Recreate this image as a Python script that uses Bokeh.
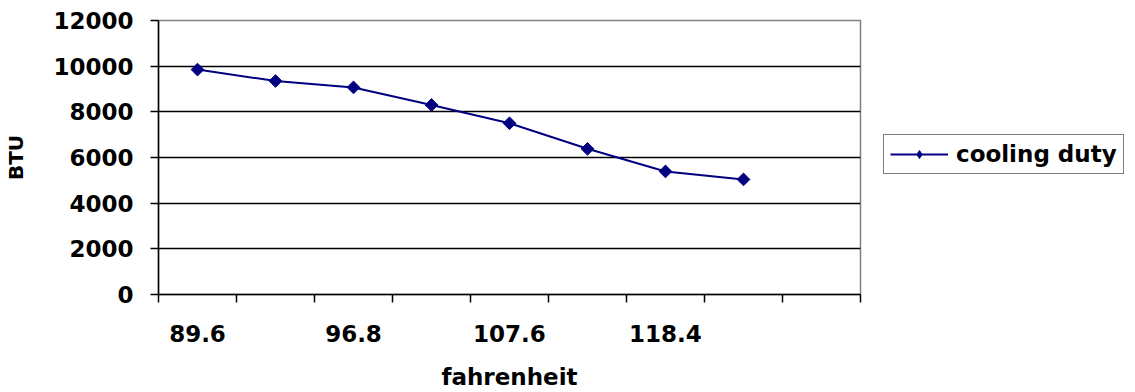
import math

from bokeh.plotting import figure
from bokeh.layouts import row
from bokeh.models import Range1d, FixedTicker, LinearAxis, Grid, Legend, LegendItem
from bokeh.embed import file_html
from bokeh.resources import INLINE

# Cooling duty (BTU) against outdoor temperature (°F)
temps_f = ["89.6", "93.2", "96.8", "102.2", "107.6", "113", "118.4", "123.8"]
cooling_duty_btu = [9850, 9350, 9070, 8300, 7500, 6380, 5390, 5040]
y_ticks = [0, 2000, 4000, 6000, 8000, 10000, 12000]
series_name = "cooling duty"

FONT = "DejaVu Sans"
NAVY = "#000080"

# category slots: one per temperature plus an empty slot at the right end
n_slots = len(temps_f) + 1
xs = [i + 0.5 for i in range(len(temps_f))]

p = figure(width=862, height=392, output_backend="svg", toolbar_location=None,
           x_range=Range1d(0, n_slots), y_range=Range1d(y_ticks[0], y_ticks[-1]),
           x_axis_type=None, y_axis_type=None,
           min_border_left=158, min_border_right=2,
           min_border_top=20, min_border_bottom=97,
           background_fill_color="white", border_fill_color="white",
           outline_line_color="#808080", outline_line_width=1.5)

# x axis: boundary ticks between categories, labels on every other category
label_pos = xs[::2]
xaxis = LinearAxis(
    ticker=FixedTicker(ticks=label_pos, minor_ticks=list(range(n_slots + 1))),
    major_label_overrides={x: t for x, t in zip(label_pos, temps_f[::2])},
    axis_label="fahrenheit",
    major_tick_out=0, major_tick_in=0, minor_tick_out=8, minor_tick_in=0,
    axis_line_color="black", axis_line_width=1.5,
    minor_tick_line_color="black", minor_tick_line_width=1.5,
    major_label_standoff=22, axis_label_standoff=19,
    major_label_text_font=FONT, major_label_text_font_style="bold",
    major_label_text_font_size="23px", major_label_text_color="black",
    axis_label_text_font=FONT, axis_label_text_font_style="bold",
    axis_label_text_font_size="23px", axis_label_text_color="black",
)
p.add_layout(xaxis, "below")

yaxis = LinearAxis(
    ticker=FixedTicker(ticks=y_ticks),
    axis_label="BTU",
    major_tick_out=8, major_tick_in=0, minor_tick_out=0, minor_tick_in=0,
    axis_line_color="black", axis_line_width=1.5,
    major_tick_line_color="black", major_tick_line_width=1.5,
    major_label_standoff=17, axis_label_standoff=22,
    major_label_text_font=FONT, major_label_text_font_style="bold",
    major_label_text_font_size="23px", major_label_text_color="black",
    axis_label_text_font=FONT, axis_label_text_font_style="bold",
    axis_label_text_font_size="20px", axis_label_text_color="black",
)
p.add_layout(yaxis, "left")

p.add_layout(Grid(dimension=1, ticker=FixedTicker(ticks=y_ticks[1:-1]),
                  grid_line_color="black", grid_line_width=1.5))

p.line(xs, cooling_duty_btu, line_color=NAVY, line_width=2)
p.scatter(xs, cooling_duty_btu, marker="square", angle=math.pi / 4,
          size=9, fill_color=NAVY, line_color=NAVY)

# legend panel to the right of the plot area; its series renderers sit
# outside the panel's visible range so only the legend key is shown
q = figure(width=273, height=392, output_backend="svg", toolbar_location=None,
           x_range=Range1d(100, 101), y_range=Range1d(y_ticks[0], y_ticks[-1]),
           x_axis_type=None, y_axis_type=None,
           min_border=0, outline_line_color=None,
           background_fill_color="white", border_fill_color="white")
key_line = q.line(xs, cooling_duty_btu, line_color=NAVY, line_width=2)
key_pts = q.scatter(xs, cooling_duty_btu, marker="diamond", size=12,
                    fill_color=NAVY, line_color=NAVY)
q.xgrid.visible = False
q.ygrid.visible = False

legend = Legend(
    items=[LegendItem(label=series_name, renderers=[key_line, key_pts])],
    location=(21, 120),
    glyph_width=58, glyph_height=20, label_standoff=8, padding=6, spacing=0,
    margin=0,
    label_text_font=FONT, label_text_font_style="bold",
    label_text_font_size="23px", label_text_color="black",
    border_line_color="black", border_line_width=1.5,
    background_fill_color="white", background_fill_alpha=1,
)
q.add_layout(legend)

layout = row(p, q, spacing=0)
open("out.html", "w").write(file_html(layout, INLINE))
